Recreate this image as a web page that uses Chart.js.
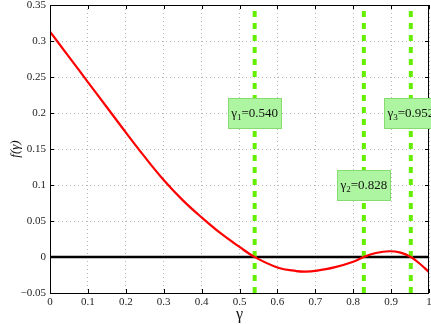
<!DOCTYPE html>
<html>
<head>
<meta charset="utf-8">
<script src="https://cdn.jsdelivr.net/npm/chart.js@4/dist/chart.umd.min.js"></script>
<style>
  html, body { margin: 0; padding: 0; background: #fff; }
  #wrap { width: 431px; height: 324px; }
</style>
</head>
<body>
<div id="wrap"><canvas id="c" width="431" height="324"></canvas></div>
<script>
// ---- data ----
const gammaValues = [0, 0.05, 0.1, 0.15, 0.2, 0.25, 0.3, 0.35, 0.4, 0.45, 0.5, 0.54, 0.6, 0.65, 0.675, 0.7, 0.75, 0.8, 0.828, 0.86, 0.895, 0.925, 0.952, 0.975, 1.0];
const fValues = [0.313, 0.278, 0.243, 0.208, 0.173, 0.139, 0.107, 0.079, 0.055, 0.033, 0.014, 0, -0.0145, -0.0195, -0.0202, -0.0193, -0.0145, -0.0065, 0, 0.0055, 0.008, 0.006, 0, -0.009, -0.021];
const rootValues = [0.540, 0.828, 0.952];
const rootNames = ['1', '2', '3'];
const rootLabelY = [0.2, 0.1, 0.2];
const xRange = [0, 1];
const yRange = [-0.05, 0.35];

const fmt = v => String(+v.toFixed(2)).replace('-', '\u2212');

const datasets = [];
datasets.push({
  data: gammaValues.map((g, i) => ({x: g, y: fValues[i]})),
  borderColor: '#ff0000', borderWidth: 2.2, pointRadius: 0,
  tension: 0.4, order: 1
});
rootValues.forEach(r => {
  datasets.push({
    data: [{x: r, y: yRange[0]}, {x: r, y: yRange[1]}],
    borderColor: '#66ee00', borderWidth: 4, borderDash: [6, 6],
    pointRadius: 0, order: 2
  });
});
datasets.push({
  data: [{x: xRange[0], y: 0}, {x: xRange[1], y: 0}],
  borderColor: '#000', borderWidth: 2.5, pointRadius: 0, order: 3
});

const framePlugin = {
  id: 'frame',
  beforeDatasetsDraw(chart) {
    const {ctx, chartArea: a, scales} = chart;
    ctx.save();
    ctx.strokeStyle = '#000';
    ctx.lineWidth = 1;
    const tl = 4;
    ctx.beginPath();
    scales.x.ticks.forEach(t => {
      const px = Math.round(scales.x.getPixelForValue(t.value)) + 0.5;
      ctx.moveTo(px, a.bottom); ctx.lineTo(px, a.bottom - tl);
      ctx.moveTo(px, a.top); ctx.lineTo(px, a.top + tl);
    });
    scales.y.ticks.forEach(t => {
      const py = Math.round(scales.y.getPixelForValue(t.value)) + 0.5;
      ctx.moveTo(a.left, py); ctx.lineTo(a.left + tl, py);
      ctx.moveTo(a.right, py); ctx.lineTo(a.right - tl, py);
    });
    ctx.stroke();
    ctx.restore();
  },
  afterDatasetsDraw(chart) {
    const {ctx, chartArea: a, scales} = chart;
    ctx.save();
    ctx.strokeStyle = '#000';
    ctx.lineWidth = 1;
    ctx.strokeRect(Math.round(a.left) + 0.5, Math.round(a.top) + 0.5,
                   Math.round(a.right - a.left) - 1, Math.round(a.bottom - a.top));
    // root labels
    rootValues.forEach((r, i) => {
      const cx = scales.x.getPixelForValue(r);
      const cy = scales.y.getPixelForValue(rootLabelY[i]);
      const w = 53, h = 30;
      ctx.fillStyle = '#adf5a0';
      ctx.fillRect(cx - w / 2, cy - h / 2, w, h);
      ctx.strokeStyle = '#86dc70';
      ctx.lineWidth = 1;
      ctx.strokeRect(Math.round(cx - w / 2) + 0.5, Math.round(cy - h / 2) + 0.5, w, h);
      const big = '13px "Liberation Serif"', small = '9px "Liberation Serif"';
      ctx.font = big; const w1 = ctx.measureText('\u03b3').width;
      const rest = '=' + rootValues[i].toFixed(3);
      const w3 = ctx.measureText(rest).width;
      ctx.font = small; const w2 = ctx.measureText(rootNames[i]).width;
      let x = cx - (w1 + w2 + w3) / 2;
      const base = cy + 4;
      ctx.fillStyle = '#111';
      ctx.textBaseline = 'alphabetic';
      ctx.textAlign = 'left';
      ctx.font = big; ctx.fillText('\u03b3', x, base); x += w1;
      ctx.font = small; ctx.fillText(rootNames[i], x, base + 3); x += w2;
      ctx.font = big; ctx.fillText(rest, x, base);
    });
    ctx.restore();
  }
};

new Chart(document.getElementById('c'), {
  type: 'line',
  data: { datasets },
  plugins: [framePlugin],
  options: {
    responsive: false,
    animation: false,
    events: [],
    layout: { padding: { top: 5, right: 2, left: 0, bottom: 0 }, autoPadding: false },
    plugins: { legend: { display: false }, tooltip: { enabled: false } },
    scales: {
      x: {
        type: 'linear', min: xRange[0], max: xRange[1],
        ticks: { stepSize: 0.1, callback: fmt, color: '#222', padding: 3, maxRotation: 0,
                 font: { family: 'Liberation Serif', size: 11 } },
        grid: { color: '#b8b8b8', lineWidth: 1, drawTicks: false },
        border: { display: false, dash: [1, 3] },
        title: { display: true, text: '\u03b3', color: '#111',
                 font: { family: 'Liberation Serif', size: 16 }, padding: { top: 0, bottom: 0 } },
        afterFit(s) { s.height = 31; s.paddingLeft = 0; s.paddingRight = 0; }
      },
      y: {
        type: 'linear', min: yRange[0], max: yRange[1],
        ticks: { stepSize: 0.05, callback: fmt, color: '#222', padding: 4,
                 font: { family: 'Liberation Serif', size: 11 } },
        grid: { color: '#b8b8b8', lineWidth: 1, drawTicks: false },
        border: { display: false, dash: [1, 3] },
        title: { display: true, text: 'f(\u03b3)', color: '#111',
                 font: { family: 'Liberation Serif', size: 13, style: 'italic' }, padding: { top: 8, bottom: 0 } },
        afterFit(s) { s.width = 50; s.paddingTop = 0; s.paddingBottom = 0; }
      }
    }
  }
});
</script>
</body>
</html>
